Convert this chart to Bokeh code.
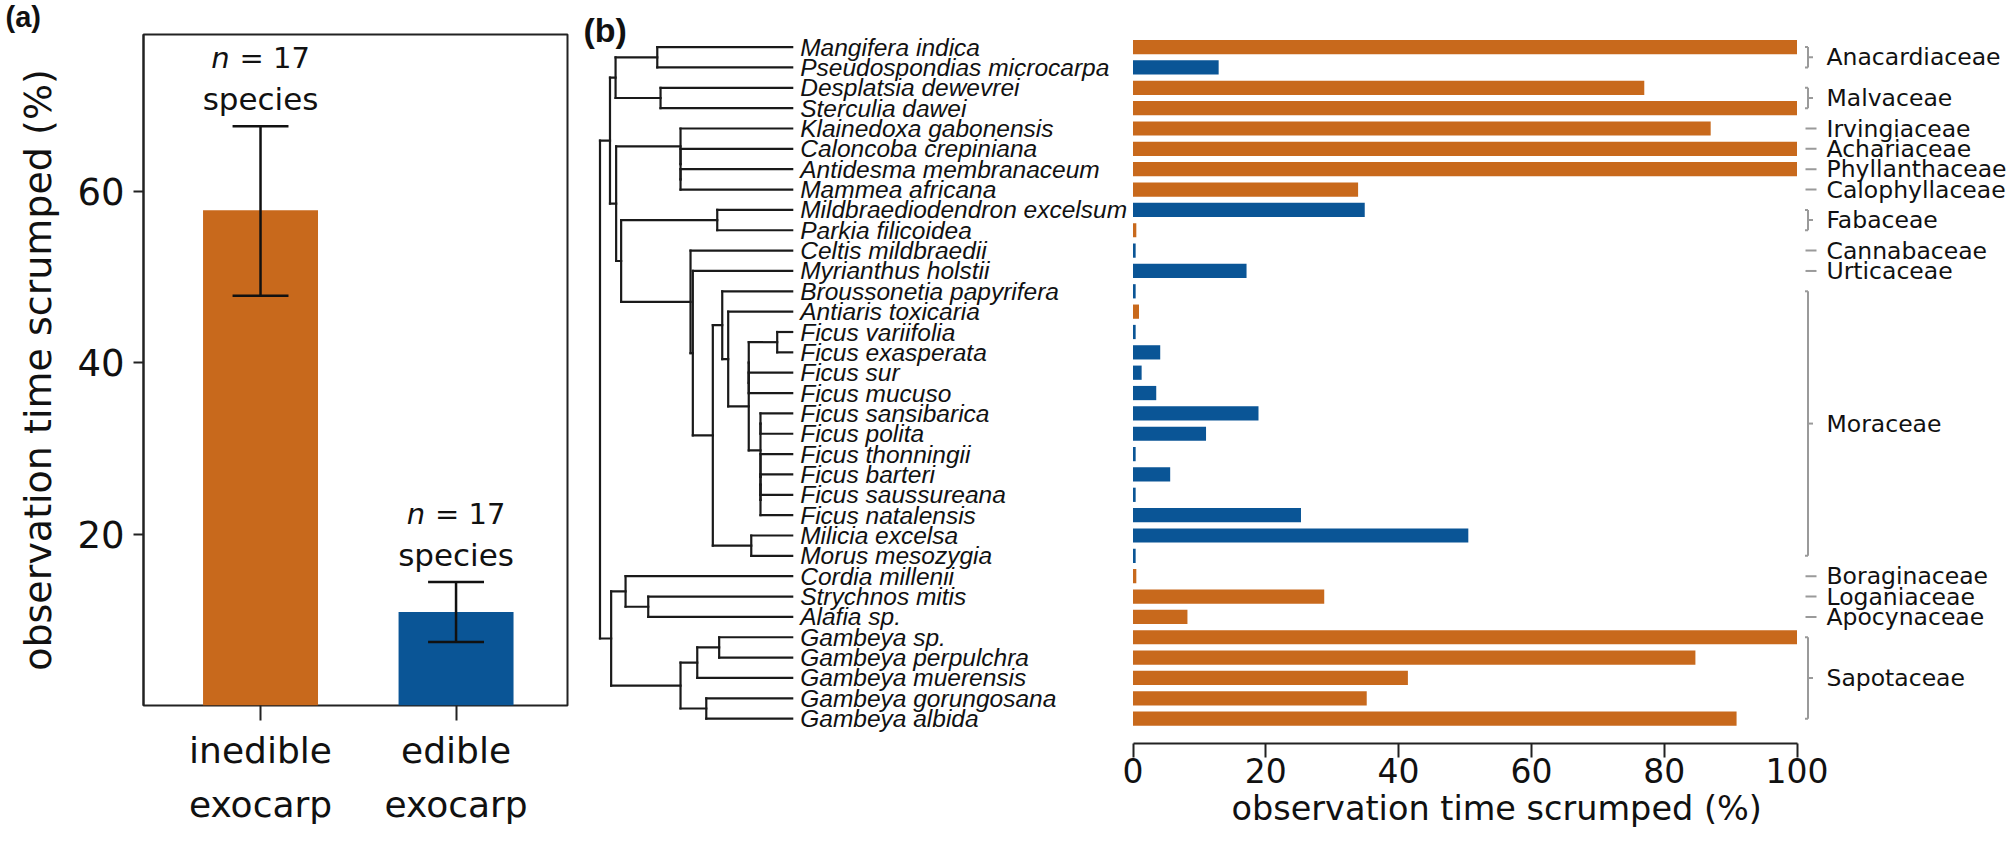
import numpy as np
from bokeh.plotting import figure
from bokeh.models import Range1d, FixedTicker, Title
from bokeh.layouts import row
from bokeh.embed import file_html
from bokeh.resources import INLINE
from bokeh.core.properties import value

# ----------------------------------------------------------------- data (a)
group_names = ["inedible exocarp", "edible exocarp"]
group_tick_labels = ["inedible\nexocarp", "edible\nexocarp"]
group_mean = [57.8, 10.9]
group_err_low = [47.8, 7.4]
group_err_high = [67.6, 14.4]
group_n = [17, 17]
a_yticks = [20, 40, 60]

# ----------------------------------------------------------------- data (b)
species = [
    "Mangifera indica", "Pseudospondias microcarpa", "Desplatsia dewevrei", "Sterculia dawei",
    "Klainedoxa gabonensis", "Caloncoba crepiniana", "Antidesma membranaceum", "Mammea africana",
    "Mildbraediodendron excelsum", "Parkia filicoidea", "Celtis mildbraedii", "Myrianthus holstii",
    "Broussonetia papyrifera", "Antiaris toxicaria", "Ficus variifolia", "Ficus exasperata",
    "Ficus sur", "Ficus mucuso", "Ficus sansibarica", "Ficus polita", "Ficus thonningii",
    "Ficus barteri", "Ficus saussureana", "Ficus natalensis", "Milicia excelsa", "Morus mesozygia",
    "Cordia millenii", "Strychnos mitis", "Alafia sp.", "Gambeya sp.", "Gambeya perpulchra",
    "Gambeya muerensis", "Gambeya gorungosana", "Gambeya albida",
]
scrumped = [100, 12.9, 77.0, 100, 87.0, 100, 100, 33.9, 34.9, 0.5, 0.4, 17.1,
            0.4, 0.9, 0.4, 4.1, 1.3, 3.5, 18.9, 11.0, 0.4, 5.6, 0.4, 25.3, 50.5, 0.4,
            0.5, 28.8, 8.2, 100, 84.7, 41.4, 35.2, 90.9]
edible_exocarp = [0, 1, 0, 0, 0, 0, 0, 0, 1, 0, 1, 1, 1, 0, 1, 1, 1, 1, 1, 1, 1, 1, 1, 1, 1, 1,
                  0, 0, 0, 0, 0, 0, 0, 0]
families = ["Anacardiaceae", "Malvaceae", "Irvingiaceae", "Achariaceae", "Phyllanthaceae",
            "Calophyllaceae", "Fabaceae", "Cannabaceae", "Urticaceae", "Moraceae",
            "Boraginaceae", "Loganiaceae", "Apocynaceae", "Sapotaceae"]
family_sizes = [2, 2, 1, 1, 1, 1, 2, 1, 1, 14, 1, 1, 1, 5]
b_xticks = [0, 20, 40, 60, 80, 100]

# phylogeny (branch lengths in relative depth units, root-to-tip = 100)
phylogeny = (
    "((((Mangifera_indica:70.2,Pseudospondias_microcarpa:70.2):21.7,"
    "(Desplatsia_dewevrei:68.5,Sterculia_dawei:68.5):23.4):2.9,"
    "((Klainedoxa_gabonensis:58.1,(Caloncoba_crepiniana:58.1,"
    "(Antidesma_membranaceum:58.1,Mammea_africana:58.1):0):0):33.5,"
    "((Mildbraediodendron_excelsum:39.0,Parkia_filicoidea:39.0):50.0,"
    "(Celtis_mildbraedii:52.9,(Myrianthus_holstii:51.7,"
    "((Broussonetia_papyrifera:36.4,(Antiaris_toxicaria:33.3,"
    "(((Ficus_variifolia:7.8,Ficus_exasperata:7.8):14.8,(Ficus_sur:22.6,Ficus_mucuso:22.6):0):0,"
    "((Ficus_sansibarica:16.5,Ficus_polita:16.5):0,(Ficus_thonningii:16.5,"
    "((Ficus_barteri:16.5,Ficus_saussureana:16.5):0,Ficus_natalensis:16.5):0):0):6.1):10.7):3.1):4.9,"
    "(Milicia_excelsa:21.3,Morus_mesozygia:21.3):20.0):10.4):1.2):36.1):2.6):3.2):5.2,"
    "((Cordia_millenii:86.7,(Strychnos_mitis:74.9,Alafia_sp.:74.9):11.8):7.5,"
    "(((Gambeya_sp.:38.0,Gambeya_perpulchra:38.0):11.4,Gambeya_muerensis:49.4):8.7,"
    "(Gambeya_gorungosana:44.7,Gambeya_albida:44.7):13.4):36.1):5.8);"
)

# ----------------------------------------------------------------- styles
ORANGE = "#C8691C"
BLUE = "#0A5596"
INK = "#111111"
FONT = "DejaVu Sans"
SPFONT = "Liberation Sans"
PAGE_H = 845
AXIS_TITLE = "observation time scrumped (%)"


# ----------------------------------------------------------------- tree parsing
def parse_newick(s):
    s = s.strip().rstrip(";")
    pos = [0]

    def node():
        children = []
        if s[pos[0]] == "(":
            pos[0] += 1
            children.append(node())
            while s[pos[0]] == ",":
                pos[0] += 1
                children.append(node())
            pos[0] += 1  # ')'
        start = pos[0]
        while pos[0] < len(s) and s[pos[0]] not in ":,)":
            pos[0] += 1
        name = s[start:pos[0]]
        length = 0.0
        if pos[0] < len(s) and s[pos[0]] == ":":
            pos[0] += 1
            start = pos[0]
            while pos[0] < len(s) and s[pos[0]] not in ",)":
                pos[0] += 1
            length = float(s[start:pos[0]])
        return {"name": name.replace("_", " "), "children": children, "length": length}

    return node()


tree = parse_newick(phylogeny)
hx0, hy0, hx1, hy1 = [], [], [], []


def layout(nd, depth):
    nd["depth"] = depth
    if not nd["children"]:
        nd["y"] = species.index(nd["name"])
        return
    for c in nd["children"]:
        layout(c, depth + c["length"])
    nd["y"] = (nd["children"][0]["y"] + nd["children"][-1]["y"]) / 2.0
    hx0.append(depth); hx1.append(depth)
    hy0.append(nd["children"][0]["y"]); hy1.append(nd["children"][-1]["y"])
    for c in nd["children"]:
        hx0.append(depth); hx1.append(c["depth"])
        hy0.append(c["y"]); hy1.append(c["y"])


layout(tree, 0.0)

# ================================================================= panel (a)
xa = np.arange(1, len(group_names) + 1)
A_TOP, A_FRAME_H = 33, 672
pa = figure(width=576, height=PAGE_H, output_backend="svg", toolbar_location=None,
            x_range=Range1d(0.4015, 2.570), y_range=Range1d(0, 78.3),
            min_border_left=143, min_border_right=9, min_border_top=A_TOP,
            min_border_bottom=PAGE_H - A_TOP - A_FRAME_H)
pa.frame_align = False
pa.xgrid.visible = False
pa.ygrid.visible = False
pa.outline_line_color = "#222222"
pa.outline_line_width = 2

# panel tag "(a)" as the figure title, shifted to the page's left edge
pa.title.text = "(a)"
pa.title.align = "left"
pa.title.offset = -138
pa.title.standoff = 0
pa.title.vertical_align = "top"
pa.title.text_font = SPFONT
pa.title.text_font_style = "bold"
pa.title.text_font_size = "29px"
pa.title.text_color = INK

pa.vbar(x=xa, top=group_mean, bottom=0, width=0.588, color=[ORANGE, BLUE], line_color=None)
pa.segment(x0=xa, y0=group_err_low, x1=xa, y1=group_err_high, line_color=INK, line_width=2.5)
pa.segment(x0=xa - 0.143, y0=group_err_high, x1=xa + 0.143, y1=group_err_high,
           line_color=INK, line_width=2.5)
pa.segment(x0=xa - 0.143, y0=group_err_low, x1=xa + 0.143, y1=group_err_low,
           line_color=INK, line_width=2.5)

pa.text(x=xa, y=group_err_high, text=["n"] * len(xa), x_offset=-31, y_offset=-68,
        text_align="right", text_baseline="middle", text_font=value(FONT),
        text_font_style="italic", text_font_size="29px", text_color=INK)
pa.text(x=xa, y=group_err_high, text=["= %d" % n for n in group_n], x_offset=-21, y_offset=-68,
        text_align="left", text_baseline="middle", text_font=value(FONT),
        text_font_size="29px", text_color=INK)
pa.text(x=xa, y=group_err_high, text=["species"] * len(xa), y_offset=-27,
        text_align="center", text_baseline="middle", text_font=value(FONT),
        text_font_size="31px", text_color=INK)

ya = pa.yaxis[0]
ya.ticker = FixedTicker(ticks=a_yticks)
ya.axis_label = AXIS_TITLE
ya.axis_label_text_font = FONT
ya.axis_label_text_font_size = "38px"
ya.axis_label_text_font_style = "normal"
ya.axis_label_text_color = INK
ya.axis_label_standoff = 14
ya.major_label_text_font = FONT
ya.major_label_text_font_size = "37px"
ya.major_label_text_color = INK
ya.major_label_standoff = 9
ya.major_tick_out = 10
ya.major_tick_in = 0
ya.major_tick_line_width = 2
ya.major_tick_line_color = "#222222"
ya.minor_tick_line_color = None
ya.axis_line_width = 2
ya.axis_line_color = "#222222"

xax = pa.xaxis[0]
xax.ticker = FixedTicker(ticks=list(xa))
xax.major_label_overrides = {int(i): lab for i, lab in zip(xa, group_tick_labels)}
xax.major_label_text_font = FONT
xax.major_label_text_font_size = "36px"
xax.major_label_text_color = INK
xax.major_label_text_line_height = 1.33
xax.major_label_standoff = 9
xax.major_tick_out = 15
xax.major_tick_in = 0
xax.major_tick_line_width = 2
xax.major_tick_line_color = "#222222"
xax.minor_tick_line_color = None
xax.axis_line_color = None

# ================================================================= panel (b)
FB_W = 1430
B_FRAME_H = 743                     # frame runs from the page top to the bar axis
row0_px, pitch = 46.6, 20.35
y_top = -row0_px / pitch
y_bot = (B_FRAME_H - row0_px) / pitch

zero_px, PXU = 556.5, 6.64          # bar axis: 0 at this px of frame, px per %
bx_start = -zero_px / PXU
bx_end = (FB_W - zero_px) / PXU
root_px, TPX = 23.5, 1.922          # tree: depth 0 at this px, px per depth unit
tx_start = -root_px / TPX
tx_end = 100 + (FB_W - (root_px + 100 * TPX)) / TPX

pb = figure(width=FB_W, height=PAGE_H, output_backend="svg", toolbar_location=None,
            x_range=Range1d(bx_start, bx_end), y_range=Range1d(y_bot, y_top),
            y_axis_location=None,
            min_border_left=0, min_border_right=0, min_border_top=0,
            min_border_bottom=PAGE_H - B_FRAME_H)
pb.frame_align = False
pb.extra_x_ranges = {"tree": Range1d(tx_start, tx_end)}
pb.xgrid.visible = False
pb.ygrid.visible = False
pb.outline_line_color = None

# panel tag
pb.text(x=[bx_start], y=[y_top], text=["(b)"], x_offset=7, y_offset=10,
        text_align="left", text_baseline="top", text_font=value(SPFONT),
        text_font_style="bold", text_font_size="34px", text_color=INK)

# tree
pb.segment(x0=hx0, y0=hy0, x1=hx1, y1=hy1, x_range_name="tree",
           line_color="#1a1a1a", line_width=2.2, line_cap="square")
idx = np.arange(len(species))
pb.text(x=[100] * len(species), y=idx, text=species, x_range_name="tree", x_offset=8,
        text_align="left", text_baseline="middle", text_font=value(SPFONT),
        text_font_style="italic", text_font_size="24.5px", text_color=INK)

# bars
bar_colors = [BLUE if e else ORANGE for e in edible_exocarp]
pb.hbar(y=idx, left=0, right=scrumped, height=0.7, color=bar_colors, line_color=None)


# family brackets
def bx(px):
    return 100 + px / PXU


fam_first = np.cumsum([0] + family_sizes[:-1])
fam_last = fam_first + np.array(family_sizes) - 1
fam_mid = (fam_first + fam_last) / 2.0
multi = [i for i, s in enumerate(family_sizes) if s > 1]
single = [i for i, s in enumerate(family_sizes) if s == 1]
GRAY = "#9a9a9a"
pb.segment(x0=[bx(11)] * len(multi), y0=fam_first[multi], x1=[bx(11)] * len(multi),
           y1=fam_last[multi], line_color=GRAY, line_width=2)
for arr in (fam_first, fam_last):
    pb.segment(x0=[bx(8)] * len(multi), y0=arr[multi], x1=[bx(11)] * len(multi),
               y1=arr[multi], line_color=GRAY, line_width=2)
pb.segment(x0=[bx(11)] * len(multi), y0=fam_mid[multi], x1=[bx(16)] * len(multi),
           y1=fam_mid[multi], line_color=GRAY, line_width=2)
pb.segment(x0=[bx(8.5)] * len(single), y0=fam_mid[single], x1=[bx(19.5)] * len(single),
           y1=fam_mid[single], line_color=GRAY, line_width=2)
pb.text(x=[100] * len(families), y=fam_mid, text=families, x_offset=29.5,
        text_align="left", text_baseline="middle", text_font=value(FONT),
        text_font_size="23.5px", text_color=INK)

xb = pb.xaxis[0]
xb.ticker = FixedTicker(ticks=b_xticks)
xb.bounds = (0, 100)
xb.major_label_text_font = FONT
xb.major_label_text_font_size = "33px"
xb.major_label_text_color = INK
xb.major_label_standoff = 0
xb.major_tick_out = 14
xb.major_tick_in = 0
xb.major_tick_line_width = 2
xb.major_tick_line_color = "#222222"
xb.minor_tick_line_color = None
xb.axis_line_width = 2
xb.axis_line_color = "#222222"

# bar-axis title, placed under the 0-100 axis (a little right of its centre, as drawn)
pb.add_layout(Title(text=AXIS_TITLE, align="left", offset=655, standoff=2,
                    text_font=FONT, text_font_size="33.5px", text_font_style="normal",
                    text_color=INK), "below")

layout_all = row(pa, pb)
open("out.html", "w").write(file_html(layout_all, INLINE))
